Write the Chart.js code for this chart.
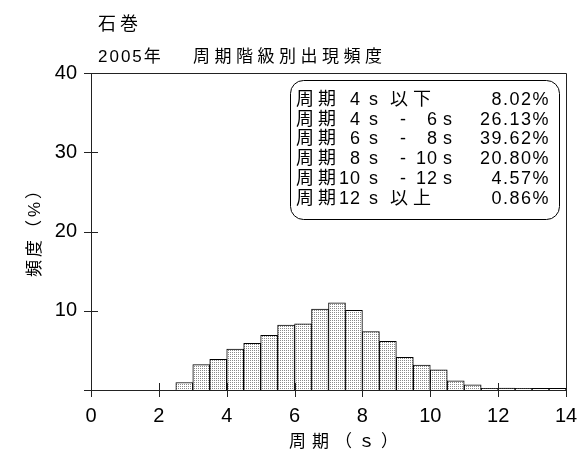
<!DOCTYPE html>
<html lang="ja">
<head>
    <meta charset="UTF-8">
    <title>石巻 2005年 周期階級別出現頻度</title>
    <script src="https://cdn.jsdelivr.net/npm/chart.js"></script>
    <style>
        body { margin: 0; background: #fff; }
        canvas { display: block; }
    </style>
</head>
<body>
    <canvas id="histChart" width="581" height="454"></canvas>

    <script>
        // Datos: centro de cada clase (0.5 s) y frecuencia (%)
        const periods = [2.75, 3.25, 3.75, 4.25, 4.75, 5.25, 5.75, 6.25, 6.75, 7.25, 7.75,
                         8.25, 8.75, 9.25, 9.75, 10.25, 10.75, 11.25, 11.75, 12.25, 12.75, 13.25, 13.75];
        const freqs = [0.95, 3.2, 3.87, 5.15, 5.9, 6.89, 8.19, 8.35, 10.22, 11.0, 10.05,
                       7.38, 6.15, 4.12, 3.15, 2.55, 1.15, 0.65, 0.22, 0.24, 0.22, 0.2, 0.2];
        const xTicks = [0, 2, 4, 6, 8, 10, 12, 14];
        const yTicks = [0, 10, 20, 30, 40];

        const legendLabels = [
            ['周', '期', '4', 's', '以', '下'],
            ['周', '期', '4', 's', '-', '6', 's'],
            ['周', '期', '6', 's', '-', '8', 's'],
            ['周', '期', '8', 's', '-', '10', 's'],
            ['周', '期', '10', 's', '-', '12', 's'],
            ['周', '期', '12', 's', '以', '上']
        ];
        const legendValues = ['8.02%', '26.13%', '39.62%', '20.80%', '4.57%', '0.86%'];

        const titleMain = '石巻';
        const titleSub = ['2005年', '周期階級別出現頻度'];
        const xTitle = '周期（ｓ）';
        const yTitle = '頻度（%）';

        const FONT = '"Liberation Sans", "Noto Sans CJK JP", sans-serif';

        // Trama punteada para las barras
        function dotPattern() {
            const c = document.createElement('canvas');
            c.width = 2; c.height = 2;
            const g = c.getContext('2d');
            g.fillStyle = '#fff';
            g.fillRect(0, 0, 2, 2);
            g.fillStyle = '#8a8a8a';
            g.fillRect(0, 0, 1, 1);
            return g.createPattern(c, 'repeat');
        }

        function text(ctx, str, x, y, size, spacing, align) {
            ctx.font = size + 'px ' + FONT;
            ctx.letterSpacing = spacing + 'px';
            ctx.textAlign = align || 'left';
            ctx.fillText(str, x, y);
            ctx.letterSpacing = '0px';
        }

        const decor = {
            id: 'decor',
            afterDraw(chart) {
                const ctx = chart.ctx;
                const a = chart.chartArea;
                const xs = chart.scales.x, ys = chart.scales.y;
                ctx.save();
                ctx.strokeStyle = '#222';
                ctx.lineWidth = 1;

                // marco superior y derecho
                ctx.beginPath();
                ctx.moveTo(a.left, a.top + 0.5);
                ctx.lineTo(a.right + 0.5, a.top + 0.5);
                ctx.lineTo(a.right + 0.5, a.bottom);
                ctx.stroke();

                // marcas cruzadas
                ctx.beginPath();
                yTicks.forEach(v => {
                    const y = Math.round(ys.getPixelForValue(v)) + 0.5;
                    ctx.moveTo(a.left - 7, y);
                    ctx.lineTo(a.left + 7, y);
                });
                xTicks.forEach(v => {
                    const x = Math.round(xs.getPixelForValue(v)) + 0.5;
                    ctx.moveTo(x, a.bottom - 7);
                    ctx.lineTo(x, a.bottom + 7);
                });
                ctx.stroke();

                ctx.fillStyle = '#000';
                ctx.textBaseline = 'alphabetic';

                // títulos
                text(ctx, titleMain, 98, 30, 18, 4);
                text(ctx, titleSub[0], 98, 62, 17, 2);
                text(ctx, titleSub[1], 193, 62, 17, 4.5);

                // título eje x
                text(ctx, xTitle, 289, 447, 17, 6);

                // título eje y (rotado)
                ctx.save();
                ctx.translate(40, 228);
                ctx.rotate(-Math.PI / 2);
                text(ctx, yTitle, 0, 0, 17, 3, 'center');
                ctx.restore();

                // cuadro de leyenda
                ctx.beginPath();
                ctx.roundRect(290.5, 80.5, 269, 139, 13);
                ctx.fillStyle = '#fff';
                ctx.fill();
                ctx.strokeStyle = '#000';
                ctx.stroke();
                ctx.fillStyle = '#000';

                legendLabels.forEach((row, i) => {
                    const y = 105 + i * 19.7;
                    text(ctx, row[0], 296, y, 18, 0);
                    text(ctx, row[1], 318, y, 18, 0);
                    text(ctx, row[2], 361, y, 18, 1, 'right');
                    text(ctx, row[3], 369, y, 18, 0);
                    if (row[4] === '-') {
                        text(ctx, row[4], 400, y, 18, 0);
                        text(ctx, row[5], 438, y, 18, 1, 'right');
                        text(ctx, row[6], 443, y, 18, 0);
                    } else {
                        text(ctx, row[4], 390, y, 18, 0);
                        text(ctx, row[5], 413, y, 18, 0);
                    }
                    text(ctx, legendValues[i], 550, y, 18, 1.5, 'right');
                });

                ctx.restore();
            }
        };

        const ctx = document.getElementById('histChart').getContext('2d');
        const histChart = new Chart(ctx, {
            type: 'bar',
            data: {
                datasets: [{
                    data: periods.map((p, i) => ({ x: p, y: freqs[i] })),
                    backgroundColor: dotPattern(),
                    borderColor: '#000',
                    borderWidth: 1,
                    barPercentage: 1,
                    categoryPercentage: 1
                }]
            },
            options: {
                responsive: false,
                devicePixelRatio: 1,
                animation: false,
                layout: { padding: { top: 73, right: 15, left: 0, bottom: 0 } },
                scales: {
                    x: {
                        type: 'linear',
                        min: 0,
                        max: 14,
                        offset: false,
                        afterFit(s) { s.height = 64; s.paddingLeft = 0; s.paddingRight = 0; },
                        afterBuildTicks(s) { s.ticks = xTicks.map(v => ({ value: v })); },
                        grid: { display: false, drawTicks: false },
                        border: { display: true, color: '#222', width: 1 },
                        ticks: {
                            color: '#000',
                            padding: 14,
                            maxRotation: 0,
                            font: { family: FONT, size: 20 }
                        }
                    },
                    y: {
                        min: 0,
                        max: 40,
                        afterFit(s) { s.width = 91; s.paddingTop = 0; s.paddingBottom = 0; },
                        afterBuildTicks(s) { s.ticks = yTicks.map(v => ({ value: v })); },
                        grid: { display: false, drawTicks: false },
                        border: { display: true, color: '#222', width: 1 },
                        ticks: {
                            color: '#000',
                            padding: 14,
                            font: { family: FONT, size: 20 },
                            callback: v => (v === 0 ? '' : v)
                        }
                    }
                },
                plugins: {
                    legend: { display: false },
                    tooltip: { enabled: false },
                    title: { display: false }
                }
            },
            plugins: [decor]
        });
    </script>
</body>
</html>
